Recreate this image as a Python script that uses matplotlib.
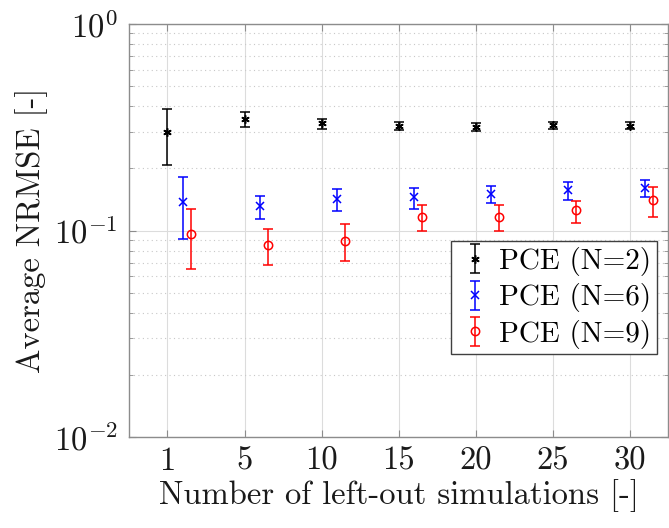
import numpy as np
import matplotlib
matplotlib.use('Agg')
import matplotlib.pyplot as plt
from matplotlib.ticker import LogLocator, NullFormatter

plt.rcParams['font.family'] = 'serif'
plt.rcParams['font.serif'] = ['cmr10', 'DejaVu Serif']
plt.rcParams['mathtext.fontset'] = 'cm'
plt.rcParams['axes.formatter.use_mathtext'] = True

# -----------------------
# Data
# -----------------------
left_out = ['1', '5', '10', '15', '20', '25', '30']

n2_mean = [0.299, 0.345, 0.330, 0.321, 0.318, 0.324, 0.322]
n2_low = [0.207, 0.316, 0.310, 0.307, 0.305, 0.311, 0.309]
n2_high = [0.388, 0.373, 0.345, 0.335, 0.332, 0.337, 0.335]

n6_mean = [0.138, 0.131, 0.142, 0.145, 0.151, 0.157, 0.161]
n6_low = [0.0913, 0.114, 0.124, 0.127, 0.136, 0.140, 0.145]
n6_high = [0.182, 0.147, 0.159, 0.160, 0.164, 0.172, 0.176]

n9_mean = [0.0962, 0.0851, 0.0893, 0.116, 0.116, 0.126, 0.141]
n9_low = [0.0653, 0.0684, 0.0712, 0.0998, 0.0998, 0.109, 0.116]
n9_high = [0.127, 0.1017, 0.107, 0.133, 0.133, 0.139, 0.163]

# -----------------------
# Plot
# -----------------------
fig = plt.figure(figsize=(6.69, 5.28), dpi=100)
ax = fig.add_axes([0.1928, 0.1723, 0.806, 0.7822])

pos = np.arange(1, len(left_out) + 1)

series = [
    (n2_mean, n2_low, n2_high, 0.0, 'k', (6, 2, 0), 'PCE (N=2)'),
    (n6_mean, n6_low, n6_high, 0.2, 'b', 'x', 'PCE (N=6)'),
    (n9_mean, n9_low, n9_high, 0.3, 'r', 'o', 'PCE (N=9)'),
]

for mean, low, high, off, col, mk, lab in series:
    mean = np.array(mean)
    yerr = [mean - np.array(low), np.array(high) - mean]
    ax.errorbar(pos + off, mean, yerr=yerr, marker=mk, ls='none', color=col, ecolor=col,
                mfc='none' if mk == 'o' else col, ms=6, mew=1.1,
                elinewidth=1.1, capsize=3.5, capthick=1.1, label=lab)

ax.set_yscale('log')
ax.set_ylim(1e-2, 1e0)
ax.set_xlim(0.5, 7.5)
ax.set_xticks(pos)
ax.set_xticklabels(left_out)
ax.yaxis.set_minor_locator(LogLocator(base=10, subs=np.arange(2, 10)))
ax.yaxis.set_minor_formatter(NullFormatter())

ax.grid(True, which='major', color='#dcdcdc', lw=0.8, ls='-')
ax.grid(True, which='minor', axis='y', color='#c8c8c8', lw=0.8, ls=(0, (1, 3)))
ax.set_axisbelow(True)

for s in ax.spines.values():
    s.set_color('#8c8c8c')
    s.set_linewidth(1.0)
ax.tick_params(which='both', direction='in', top=True, right=True, colors='#8c8c8c',
               labelcolor='#1a1a1a', labelsize=23.5)
ax.tick_params(which='major', length=5)
ax.tick_params(axis='x', which='major', pad=7)
ax.tick_params(axis='y', which='major', pad=8)
ax.tick_params(which='minor', length=3)

ax.set_xlabel('Number of left-out simulations [-]', fontsize=23.5, color='#1a1a1a', labelpad=2)
ax.set_ylabel('Average NRMSE [-]', fontsize=23.5, color='#1a1a1a', labelpad=4)

leg = ax.legend(loc='lower right', bbox_to_anchor=(0.98, 0.20), borderaxespad=0,
                fontsize=21, fancybox=False, framealpha=1, edgecolor='#404040',
                handlelength=1.25, handletextpad=0.2, borderpad=0.2, labelspacing=0.25)
leg.get_frame().set_linewidth(1.0)

fig.savefig('out.png', dpi=100)
